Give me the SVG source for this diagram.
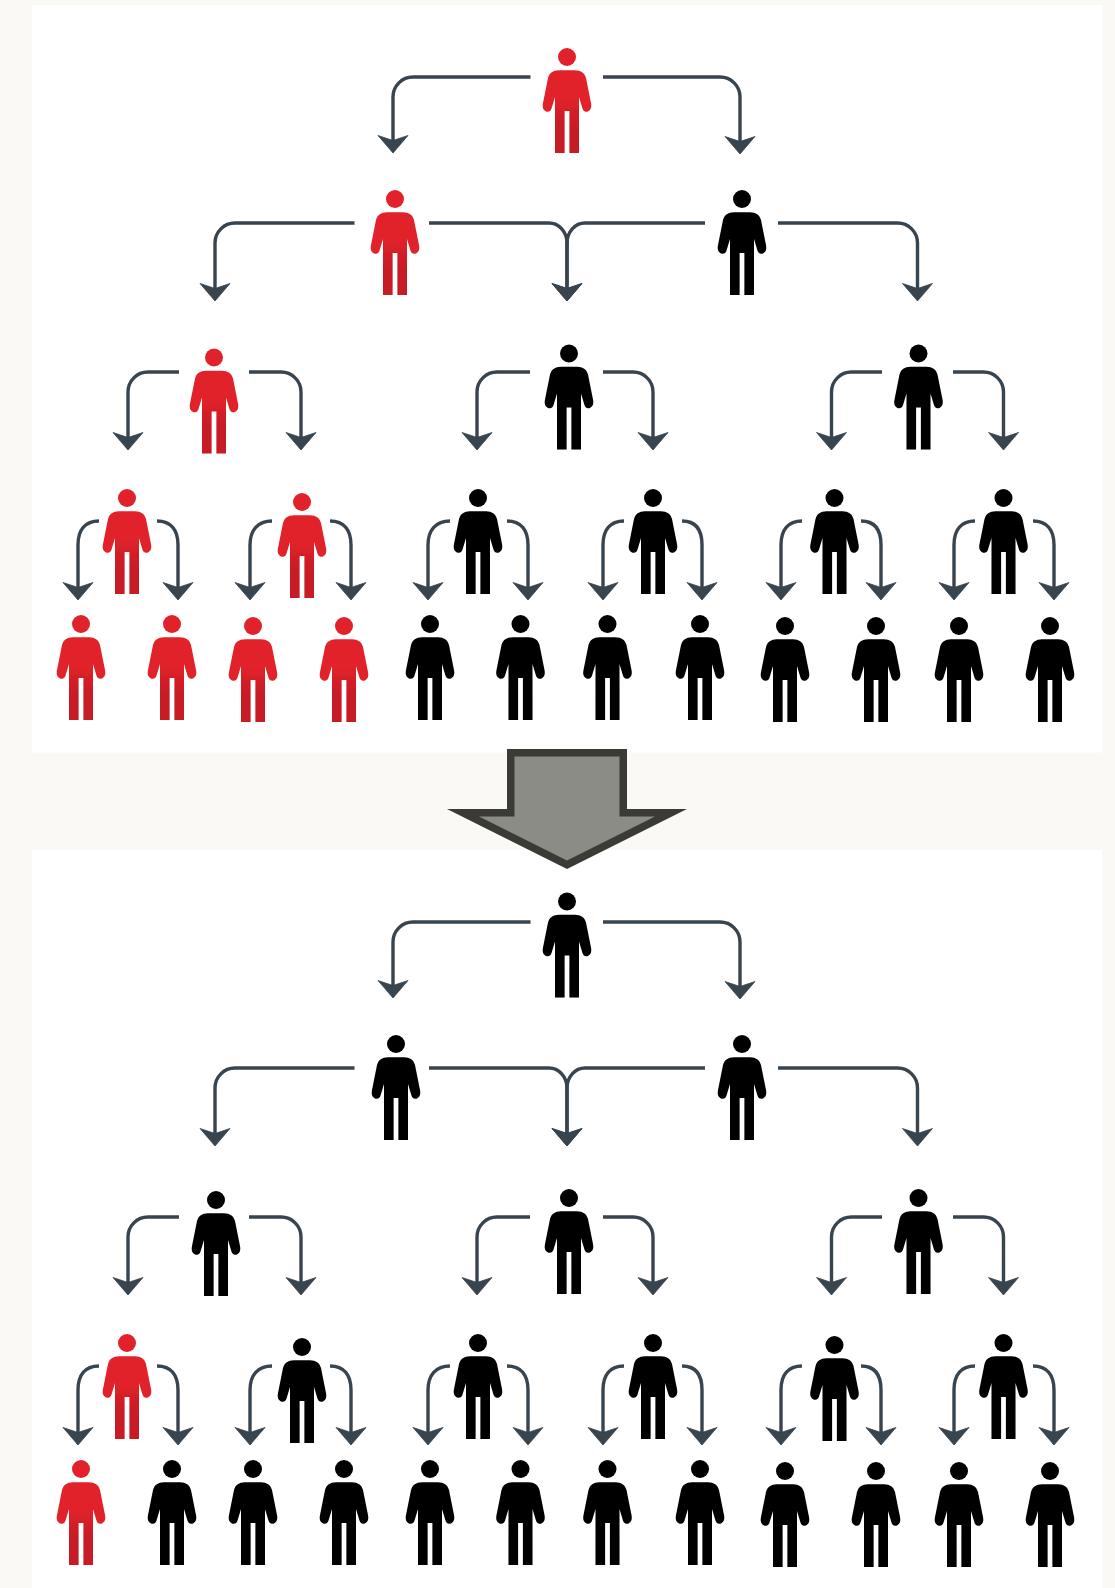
<svg xmlns="http://www.w3.org/2000/svg" width="1115" height="1588" viewBox="0 0 1115 1588">
<style>
.bg{fill:#faf9f5}
.panel{fill:#fff}
.red{color:#e2212a}
.blk{color:#000}
.wire{fill:none;stroke:#37444f;stroke-width:3.4;marker-end:url(#head)}
.soft{filter:url(#soft)}
</style>
<defs>
<filter id="soft" x="0" y="0" width="1115" height="1588" filterUnits="userSpaceOnUse"><feGaussianBlur stdDeviation="0.55"/></filter>
<linearGradient id="legshade" gradientUnits="userSpaceOnUse" x1="0" y1="40" x2="0" y2="70">
<stop offset="0" stop-color="#000" stop-opacity="0"/>
<stop offset="1" stop-color="#000" stop-opacity="0.12"/>
</linearGradient>
<marker id="head" markerUnits="userSpaceOnUse" viewBox="-9 -17 21 34" markerWidth="21" markerHeight="34" refX="0" refY="0" orient="auto">
<path d="M10,0 L-7.5,-15 L-3,-1.5 L-3,1.5 L-7.5,15 Z" fill="#37444f" stroke="#37444f" stroke-width="0.8" stroke-linejoin="round"/>
</marker>
<g id="person">
<circle cx="0" cy="0" r="9" fill="currentColor"/>
<path fill="currentColor" d="M-8,13.2 H8 C14,13.5 17.5,15.5 19,21 L24,46 C24.8,50 24,53 21,54.5 C18,55.5 16,54 15.3,51 L12,40 V96 H2.4 V54 H-2.4 V96 H-12 V40 L-15.3,51 C-16,54 -18,55.5 -21,54.5 C-24,53 -24.8,50 -24,46 L-19,21 C-17.5,15.5 -14,13.5 -8,13.2 Z"/>
<path fill="url(#legshade)" d="M-12,40 H12 V96 H2.4 V54 H-2.4 V96 H-12 Z"/>
</g>
</defs>
<rect class="bg" width="1115" height="1588"/>
<rect class="panel" x="32" y="5" width="1070" height="747.5"/>
<rect class="panel" x="32" y="850" width="1070" height="738"/>
<g id="transition-arrow">
<polygon fill="#3a3b34" points="507,749 627,749 627,809 687,809 567,869 447,809 507,809"/>
<polygon fill="#8b8c85" points="514.5,756.5 619.5,756.5 619.5,816.5 655,816.5 567,860.5 479,816.5 514.5,816.5"/>
</g>
<g id="connectors-top" class="soft">
<path class="wire" d="M530.5,77 H413 A20,20 0 0 0 393,97 V143"/>
<path class="wire" d="M603,77 H720 A20,20 0 0 1 740,97 V144"/>
<path class="wire" d="M354.5,223 H235 A20,20 0 0 0 215,243 V291"/>
<path class="wire" d="M429,223 H549 A18,20 0 0 1 567,243 V291"/>
<path class="wire" d="M705,223 H585 A18,20 0 0 0 567,243 V291"/>
<path class="wire" d="M778,223 H897.5 A20,20 0 0 1 917.5,243 V291"/>
<path class="wire" d="M179,372 H148 A20,20 0 0 0 128,392 V440"/>
<path class="wire" d="M249,372 H281 A20,20 0 0 1 301,392 V440"/>
<path class="wire" d="M530,372 H497 A20,20 0 0 0 477,392 V440"/>
<path class="wire" d="M603,372 H633 A20,20 0 0 1 653,392 V440"/>
<path class="wire" d="M882,372 H851.5 A20,20 0 0 0 831.5,392 V440"/>
<path class="wire" d="M953,372 H983.5 A20,20 0 0 1 1003.5,392 V440"/>
<path class="wire" d="M99,521 C85,521 78,530 78,545 V590"/>
<path class="wire" d="M157,521 C171,521 178,530 178,545 V590"/>
<path class="wire" d="M272,521 C258,521 250,530 250,545 V590"/>
<path class="wire" d="M330,521 C344,521 351,530 351,545 V590"/>
<path class="wire" d="M450,521 C436,521 428,530 428,545 V590"/>
<path class="wire" d="M507,521 C521,521 528,530 528,545 V590"/>
<path class="wire" d="M624,521 C610,521 603,530 603,545 V590"/>
<path class="wire" d="M682,521 C696,521 702,530 702,545 V590"/>
<path class="wire" d="M802,521 C788,521 781,530 781,545 V590"/>
<path class="wire" d="M861,521 C875,521 881,530 881,545 V590"/>
<path class="wire" d="M975,521 C961,521 954,530 954,545 V590"/>
<path class="wire" d="M1033,521 C1047,521 1054,530 1054,545 V590"/>
</g>
<g id="connectors-bottom" class="soft">
<path class="wire" d="M530.5,922 H413 A20,20 0 0 0 393,942 V988"/>
<path class="wire" d="M603,922 H720 A20,20 0 0 1 740,942 V989"/>
<path class="wire" d="M354.5,1068 H235 A20,20 0 0 0 215,1088 V1136"/>
<path class="wire" d="M429,1068 H549 A18,20 0 0 1 567,1088 V1136"/>
<path class="wire" d="M705,1068 H585 A18,20 0 0 0 567,1088 V1136"/>
<path class="wire" d="M778,1068 H897.5 A20,20 0 0 1 917.5,1088 V1136"/>
<path class="wire" d="M179,1217 H148 A20,20 0 0 0 128,1237 V1285"/>
<path class="wire" d="M249,1217 H281 A20,20 0 0 1 301,1237 V1285"/>
<path class="wire" d="M530,1217 H497 A20,20 0 0 0 477,1237 V1285"/>
<path class="wire" d="M603,1217 H633 A20,20 0 0 1 653,1237 V1285"/>
<path class="wire" d="M882,1217 H851.5 A20,20 0 0 0 831.5,1237 V1285"/>
<path class="wire" d="M953,1217 H983.5 A20,20 0 0 1 1003.5,1237 V1285"/>
<path class="wire" d="M99,1366 C85,1366 78,1375 78,1390 V1435"/>
<path class="wire" d="M157,1366 C171,1366 178,1375 178,1390 V1435"/>
<path class="wire" d="M272,1366 C258,1366 250,1375 250,1390 V1435"/>
<path class="wire" d="M330,1366 C344,1366 351,1375 351,1390 V1435"/>
<path class="wire" d="M450,1366 C436,1366 428,1375 428,1390 V1435"/>
<path class="wire" d="M507,1366 C521,1366 528,1375 528,1390 V1435"/>
<path class="wire" d="M624,1366 C610,1366 603,1375 603,1390 V1435"/>
<path class="wire" d="M682,1366 C696,1366 702,1375 702,1390 V1435"/>
<path class="wire" d="M802,1366 C788,1366 781,1375 781,1390 V1435"/>
<path class="wire" d="M861,1366 C875,1366 881,1375 881,1390 V1435"/>
<path class="wire" d="M975,1366 C961,1366 954,1375 954,1390 V1435"/>
<path class="wire" d="M1033,1366 C1047,1366 1054,1375 1054,1390 V1435"/>
</g>
<g class="soft">
<g id="top-1" class="red"><use href="#person" x="567" y="57"/></g>
<g id="top-2a" class="red"><use href="#person" x="395" y="199"/></g>
<g id="top-2b" class="blk"><use href="#person" x="742" y="199"/></g>
<g id="top-3a" class="red"><use href="#person" x="214" y="357.5"/></g>
<g id="top-3b" class="blk"><use href="#person" x="569" y="353.5"/></g>
<g id="top-3c" class="blk"><use href="#person" x="918.5" y="353.5"/></g>
<g id="top-4a" class="red"><use href="#person" x="127" y="498"/></g>
<g id="top-4b" class="red"><use href="#person" x="302" y="502"/></g>
<g id="top-4c" class="blk"><use href="#person" x="478" y="498"/></g>
<g id="top-4d" class="blk"><use href="#person" x="653" y="498"/></g>
<g id="top-4e" class="blk"><use href="#person" x="834.5" y="498"/></g>
<g id="top-4f" class="blk"><use href="#person" x="1003.5" y="498"/></g>
<g id="top-5a" class="red"><use href="#person" x="81" y="624"/></g>
<g id="top-5b" class="red"><use href="#person" x="172" y="624"/></g>
<g id="top-5c" class="red"><use href="#person" x="253" y="626"/></g>
<g id="top-5d" class="red"><use href="#person" x="344" y="626"/></g>
<g id="top-5e" class="blk"><use href="#person" x="430" y="624"/></g>
<g id="top-5f" class="blk"><use href="#person" x="520.5" y="624"/></g>
<g id="top-5g" class="blk"><use href="#person" x="607.5" y="624"/></g>
<g id="top-5h" class="blk"><use href="#person" x="700" y="624"/></g>
<g id="top-5i" class="blk"><use href="#person" x="785" y="626"/></g>
<g id="top-5j" class="blk"><use href="#person" x="876" y="626"/></g>
<g id="top-5k" class="blk"><use href="#person" x="959" y="626"/></g>
<g id="top-5l" class="blk"><use href="#person" x="1050" y="626"/></g>
<g id="bot-1" class="blk"><use href="#person" x="567" y="901.5"/></g>
<g id="bot-2a" class="blk"><use href="#person" x="396" y="1044"/></g>
<g id="bot-2b" class="blk"><use href="#person" x="742" y="1044"/></g>
<g id="bot-3a" class="blk"><use href="#person" x="216" y="1200"/></g>
<g id="bot-3b" class="blk"><use href="#person" x="569" y="1198"/></g>
<g id="bot-3c" class="blk"><use href="#person" x="918.5" y="1198"/></g>
<g id="bot-4a" class="red"><use href="#person" x="127" y="1343"/></g>
<g id="bot-4b" class="blk"><use href="#person" x="302" y="1347"/></g>
<g id="bot-4c" class="blk"><use href="#person" x="478" y="1343"/></g>
<g id="bot-4d" class="blk"><use href="#person" x="653" y="1343"/></g>
<g id="bot-4e" class="blk"><use href="#person" x="834.5" y="1345"/></g>
<g id="bot-4f" class="blk"><use href="#person" x="1003.5" y="1343"/></g>
<g id="bot-5a" class="red"><use href="#person" x="81" y="1469"/></g>
<g id="bot-5b" class="blk"><use href="#person" x="172" y="1469"/></g>
<g id="bot-5c" class="blk"><use href="#person" x="253" y="1469"/></g>
<g id="bot-5d" class="blk"><use href="#person" x="344" y="1469"/></g>
<g id="bot-5e" class="blk"><use href="#person" x="430" y="1469"/></g>
<g id="bot-5f" class="blk"><use href="#person" x="520.5" y="1469"/></g>
<g id="bot-5g" class="blk"><use href="#person" x="607.5" y="1469"/></g>
<g id="bot-5h" class="blk"><use href="#person" x="700" y="1469"/></g>
<g id="bot-5i" class="blk"><use href="#person" x="785" y="1471"/></g>
<g id="bot-5j" class="blk"><use href="#person" x="876" y="1471"/></g>
<g id="bot-5k" class="blk"><use href="#person" x="959" y="1471"/></g>
<g id="bot-5l" class="blk"><use href="#person" x="1050" y="1471"/></g>
</g>
</svg>
